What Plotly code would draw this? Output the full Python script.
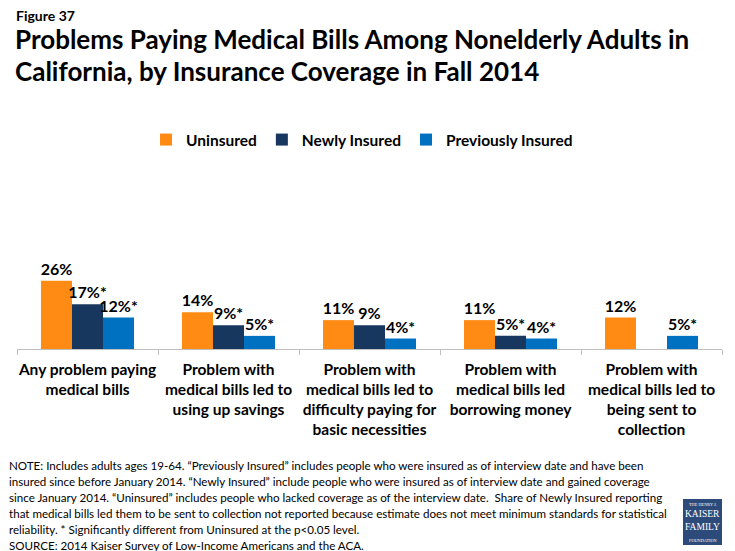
import plotly.graph_objects as go

# data
categories = [
    "Any problem paying<br>medical bills",
    "Problem with<br>medical bills led to<br>using up savings",
    "Problem with<br>medical bills led to<br>difficulty paying for<br>basic necessities",
    "Problem with<br>medical bills led<br>borrowing money",
    "Problem with<br>medical bills led to<br>being sent to<br>collection",
]
uninsured = [26, 14, 11, 11, 12]
newly_insured = [17, 9, 9, 5, None]
previously_insured = [12, 5, 4, 4, 5]
# * = significantly different from Uninsured
newly_star = [True, True, False, True, False]
previously_star = [True, True, True, True, True]

note_lines = [
    "NOTE: Includes adults ages 19-64. \u201cPreviously Insured\u201d includes people who were insured as of interview date and have been",
    "insured since before January 2014. \u201cNewly Insured\u201d include people who were insured as of interview date and gained coverage",
    "since January 2014. \u201cUninsured\u201d includes people who lacked coverage as of the interview date.  Share of Newly Insured reporting",
    "that medical bills led them to be sent to collection not reported because estimate does not meet minimum standards for statistical",
    "reliability. * Significantly different from Uninsured at the p<0.05 level.",
    "SOURCE: 2014 Kaiser Survey of Low-Income Americans and the ACA.",
]

# the page puts the figure 8px in from the corner, so work in reference pixels
OFF = 8
W, H = 735 - OFF, 551 - OFF
FONT = "Lato"


def px(x):
    return (x - OFF) / W


def py(y):
    return 1 - (y - OFF) / H


def labels(vals, stars):
    out = []
    for v, s in zip(vals, stars):
        if v is None:
            out.append("")
        else:
            out.append(f"{v}%" + ("*" if s else ""))
    return out


series = [
    ("Uninsured", uninsured, [False] * 5, "#FF8A14"),
    ("Newly Insured", newly_insured, newly_star, "#17375E"),
    ("Previously Insured", previously_insured, previously_star, "#0070C0"),
]

fig = go.Figure()
for name, vals, stars, color in series:
    fig.add_trace(go.Bar(
        name=name, x=categories, y=vals,
        marker_color=color, marker_line_width=0,
        text=labels(vals, stars), textposition="outside",
        textfont=dict(family=FONT, size=16, color="black", weight="bold"),
        constraintext="none", cliponaxis=False,
    ))

fig.update_layout(
    width=W, height=H,
    margin=dict(l=0, r=0, t=0, b=0, autoexpand=False),
    paper_bgcolor="white", plot_bgcolor="white",
    barmode="group", bargap=0.34, bargroupgap=0,
    font=dict(family=FONT, color="black"),
    showlegend=True,
    legend=dict(
        orientation="h", x=px(146), xanchor="left", y=py(140), yanchor="middle",
        font=dict(family=FONT, size=15.5, color="black", weight="bold"),
        itemclick=False,
    ),
    xaxis=dict(
        domain=[px(17), px(722)], automargin=False,
        showline=True, linecolor="#BFBFBF", linewidth=1,
        ticks="outside", tickson="boundaries", ticklen=5, tickcolor="#BFBFBF",
        tickangle=0, ticklabelstandoff=6,
        tickfont=dict(family=FONT, size=15.5, color="black", weight="bold"),
        showgrid=False, fixedrange=True,
    ),
    yaxis=dict(
        domain=[py(349), py(265)], automargin=False,
        range=[0, 32], visible=False, fixedrange=True,
    ),
)

annotations = [
    dict(text="<b>Figure 37</b>", x=px(14), y=py(16), font=dict(size=14)),
    dict(text="<b>Problems Paying Medical Bills Among Nonelderly Adults in</b>",
         x=px(13), y=py(39), font=dict(size=26)),
    dict(text="<b>California, by Insurance Coverage in Fall 2014</b>",
         x=px(13), y=py(71), font=dict(size=26)),
]
for i, line in enumerate(note_lines):
    annotations.append(dict(text=line, x=px(7), y=py(465 + 16 * i), font=dict(size=11.6)))
for a in annotations:
    a.update(xref="paper", yref="paper", xanchor="left", yanchor="middle", showarrow=False)
    a["font"].update(family=FONT, color="black")
    fig.add_annotation(**a)

# foundation logo box
fig.add_shape(type="rect", xref="paper", yref="paper",
              x0=px(683), x1=px(722), y0=py(545), y1=py(499),
              fillcolor="#2D4B7A", line_width=0)
logo = [("THE HENRY J.", 504, 4.3), ("KAISER", 514, 9.5), ("FAMILY", 527, 9.5), ("FOUNDATION", 540, 4.3)]
for txt, yy, sz in logo:
    fig.add_annotation(text=txt, xref="paper", yref="paper", x=px(702.5), y=py(yy),
                       xanchor="center", yanchor="middle", showarrow=False,
                       font=dict(family="Liberation Serif", size=sz, color="white"))

fig.write_html("out.html")
